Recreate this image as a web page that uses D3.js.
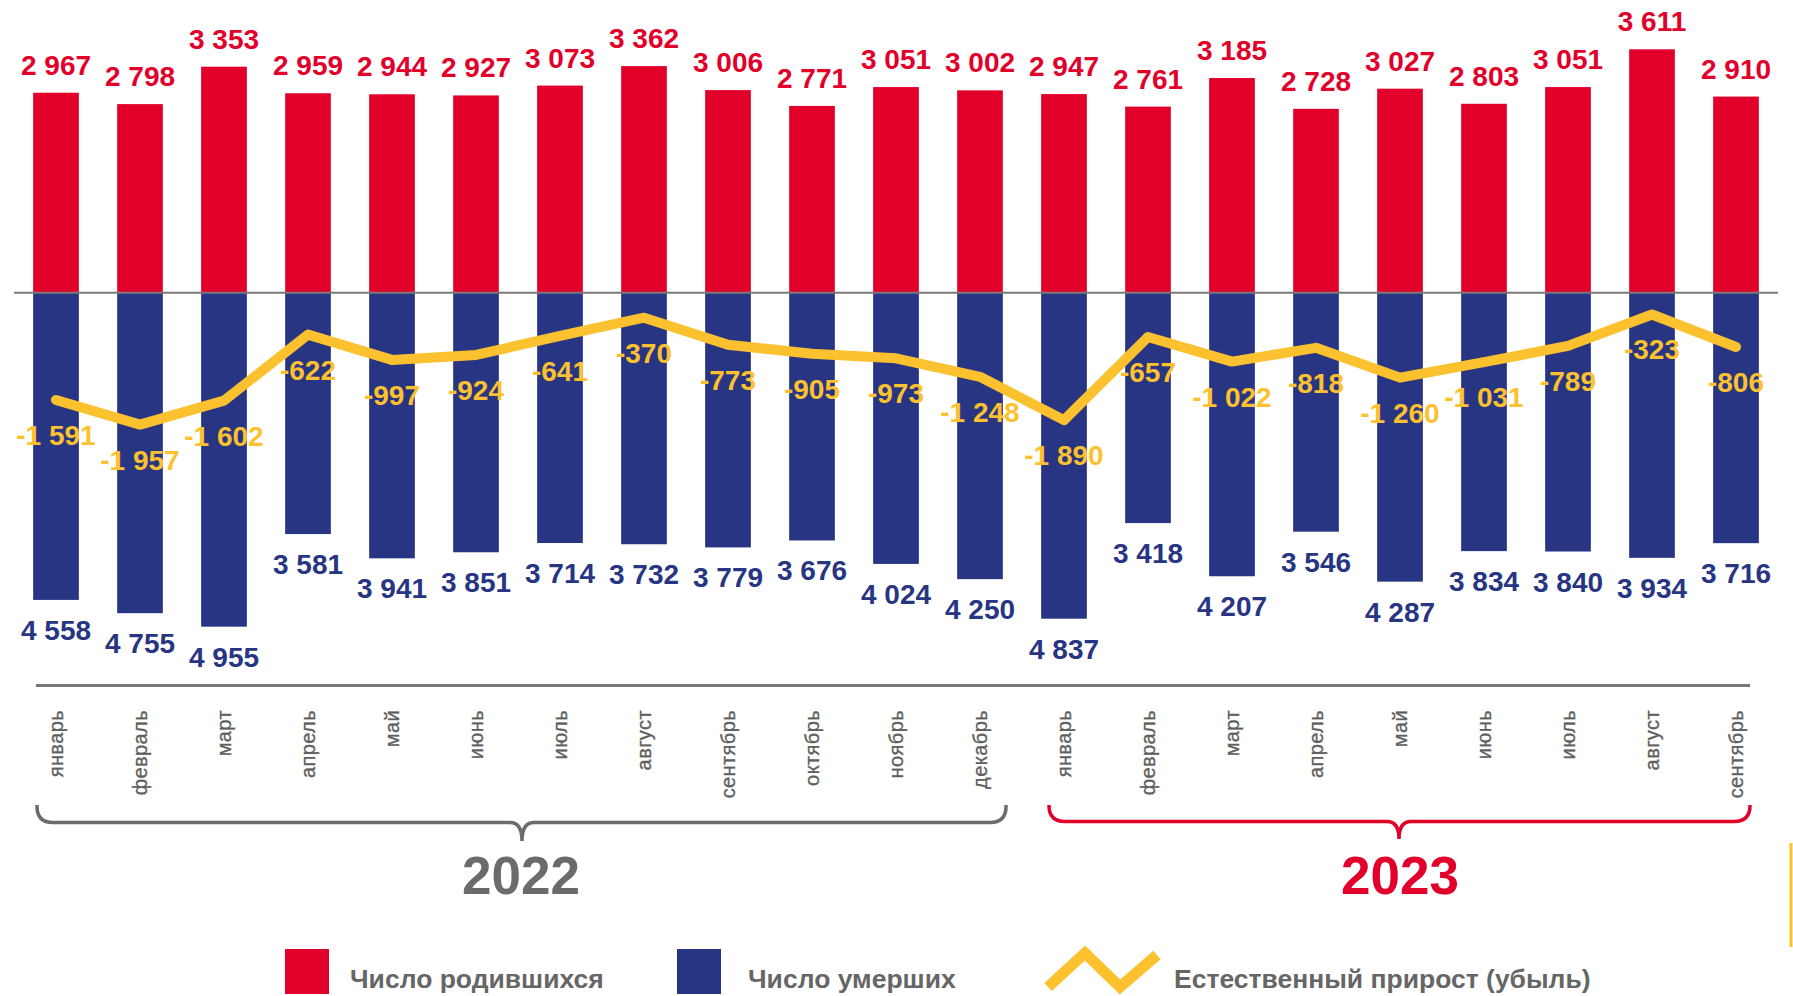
<!DOCTYPE html>
<html><head><meta charset="utf-8">
<script src="https://cdn.jsdelivr.net/npm/d3@7/dist/d3.min.js"></script>
<style>
html,body{margin:0;padding:0;background:#fff;}
svg{display:block;font-family:"Liberation Sans",Arial,sans-serif;}
</style></head>
<body>
<svg id="chart" width="1793" height="996"></svg>
<script>
const months = ["январь","февраль","март","апрель","май","июнь","июль","август","сентябрь","октябрь","ноябрь","декабрь",
                "январь","февраль","март","апрель","май","июнь","июль","август","сентябрь"];
const births = [2967,2798,3353,2959,2944,2927,3073,3362,3006,2771,3051,3002,
                2947,2761,3185,2728,3027,2803,3051,3611,2910];
const deaths = [4558,4755,4955,3581,3941,3851,3714,3732,3779,3676,4024,4250,
                4837,3418,4207,3546,4287,3834,3840,3934,3716];
const natural = [-1591,-1957,-1602,-622,-997,-924,-641,-370,-773,-905,-973,-1248,
                 -1890,-657,-1022,-818,-1260,-1031,-789,-323,-806];
const years = ["2022","2023"];
const legendLabels = ["Число родившихся","Число умерших","Естественный прирост (убыль)"];

const RED="#e2002b", BLUE="#283583", YEL="#fcc12f", GREY="#6b6b6b";
const svg = d3.select("#chart");
const idx = d3.range(months.length);
const x = d3.scaleBand().domain(idx).range([14,1778]).paddingInner(0.456).paddingOuter(0.228);
const bw = x.bandwidth();
const cx = i => x(i) + bw/2;
const y = d3.scaleLinear().domain([-5000,4000]).range([292.7+5000*0.0674, 292.7-4000*0.0674]);
const fmt = v => { const s = d3.format(",")(Math.abs(v)).replace(/,/g," "); return (v<0?"-":"")+s; };

// bars
svg.append("g").selectAll("rect").data(idx).join("rect")
  .attr("x", i=>x(i)).attr("width", bw)
  .attr("y", i=>y(births[i])).attr("height", i=>y(0)-y(births[i]))
  .attr("fill", RED);
svg.append("g").selectAll("rect").data(idx).join("rect")
  .attr("x", i=>x(i)).attr("width", bw)
  .attr("y", y(0)).attr("height", i=>y(-deaths[i])-y(0))
  .attr("fill", BLUE);

// zero line
svg.append("line").attr("x1",14).attr("x2",1778).attr("y1",y(0)).attr("y2",y(0))
  .attr("stroke","#7a7a7a").attr("stroke-width",2);

// natural increase line
const line = d3.line().x(i=>cx(i)).y(i=>y(natural[i]));
svg.append("path").datum(idx).attr("d", line).attr("fill","none")
  .attr("stroke", YEL).attr("stroke-width", 10).attr("stroke-linejoin","round").attr("stroke-linecap","round");

// labels
const lab = svg.append("g").attr("font-weight","bold").attr("font-size",28).attr("text-anchor","middle");
lab.selectAll(".b").data(idx).join("text").attr("class","b")
  .attr("x", cx).attr("y", i=>y(births[i])-18).attr("fill", RED).text(i=>fmt(births[i]));
lab.selectAll(".d").data(idx).join("text").attr("class","d")
  .attr("x", cx).attr("y", i=>y(-deaths[i])+40).attr("fill", BLUE).text(i=>fmt(deaths[i]));
lab.selectAll(".n").data(idx).join("text").attr("class","n")
  .attr("x", cx).attr("y", i=>y(natural[i])+45).attr("fill", YEL).text(i=>fmt(natural[i]));

// bottom axis line
svg.append("line").attr("x1",36).attr("x2",1750).attr("y1",685.5).attr("y2",685.5)
  .attr("stroke","#777").attr("stroke-width",3);

// month labels
svg.append("g").selectAll("text").data(idx).join("text")
  .attr("transform", i=>`translate(${cx(i)+7},710) rotate(-90)`)
  .attr("text-anchor","end").attr("font-size",20).attr("fill","#5f5f5f")
  .attr("stroke","#5f5f5f").attr("stroke-width",0.35)
  .attr("letter-spacing",0.4)
  .text(i=>months[i]);

// braces
function brace(x0,x1,xm,top,hy,tip,r,color){
  const r2=12;
  const d=`M${x0},${top} L${x0},${hy-r} Q${x0},${hy} ${x0+r},${hy} L${xm-r2},${hy} Q${xm},${hy} ${xm},${tip} Q${xm},${hy} ${xm+r2},${hy} L${x1-r},${hy} Q${x1},${hy} ${x1},${hy-r} L${x1},${top}`;
  svg.append("path").attr("d",d).attr("fill","none").attr("stroke",color).attr("stroke-width",3.5);
}
brace(37,1006,522,805,822.5,841,16,GREY);
brace(1049,1750,1399,805,821.5,839,16,RED);

svg.append("text").attr("x",521).attr("y",894).attr("text-anchor","middle")
  .attr("font-size",53).attr("font-weight","bold").attr("fill",GREY).text(years[0]);
svg.append("text").attr("x",1400).attr("y",894).attr("text-anchor","middle")
  .attr("font-size",53).attr("font-weight","bold").attr("fill",RED).text(years[1]);

// legend
const lg = svg.append("g").attr("font-size",26.5).attr("font-weight","bold").attr("fill","#666");
lg.append("rect").attr("x",285).attr("y",949).attr("width",44).attr("height",45).attr("fill",RED);
lg.append("text").attr("x",350).attr("y",988).text(legendLabels[0]);
lg.append("rect").attr("x",677).attr("y",949).attr("width",44).attr("height",45).attr("fill",BLUE);
lg.append("text").attr("x",748).attr("y",988).text(legendLabels[1]);
lg.append("path").attr("d","M1048,987 L1085,953 L1120,987 L1157,955").attr("fill","none")
  .attr("stroke",YEL).attr("stroke-width",11).attr("stroke-linejoin","miter");
lg.append("text").attr("x",1174).attr("y",988).text(legendLabels[2]);

// decorative yellow edge line
svg.append("line").attr("x1",1791).attr("x2",1791).attr("y1",843).attr("y2",947)
  .attr("stroke",YEL).attr("stroke-width",3);
</script>
</body></html>
